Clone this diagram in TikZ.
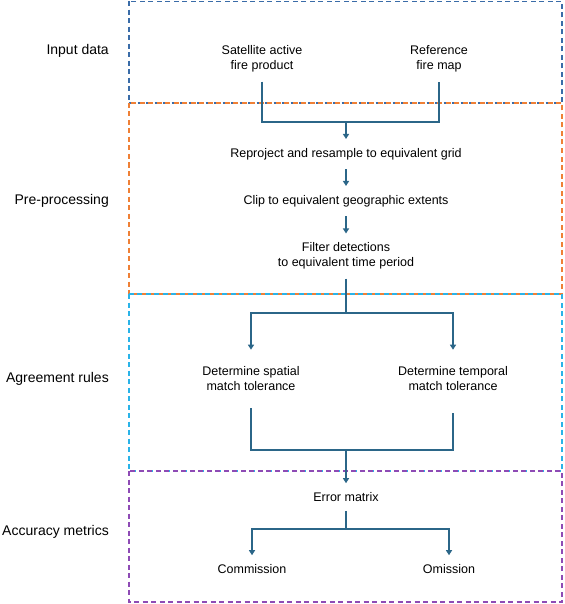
\documentclass[tikz,border=0pt]{standalone}
\usepackage{fontspec}
\setmainfont{Liberation Sans}
\usetikzlibrary{arrows.meta,positioning,calc}

\definecolor{frBlue}{HTML}{3A6CA8}
\definecolor{frOrange}{HTML}{EF8036}
\definecolor{frCyan}{HTML}{2AB3E8}
\definecolor{frPurple}{HTML}{8E4BB5}
\definecolor{flowCol}{HTML}{2B6688}

\tikzset{
  stage/.style={align=center, inner xsep=2pt, inner ysep=9pt, font=\fontsize{12.5}{15}\selectfont},
  side/.style={anchor=east, inner sep=0pt, font=\fontsize{14}{16}\selectfont},
  frame/.style={dash pattern=on 5pt off 3.5pt, line width=1.3pt},
  flow/.style={draw=flowCol, line width=1.4pt},
  arr/.style={flow, -{Triangle[width=6pt,length=5pt]}},
}

\begin{document}
\begin{tikzpicture}[x=1pt,y=-1pt]
    \useasboundingbox (0,0) rectangle (564,604);

    % stage frames
    \draw[frame, draw=frBlue] (129,1.2) rectangle (562,103);
    \draw[frame, draw=frOrange] (129,103) rectangle (562,294);
    \draw[frame, draw=frCyan] (129,294) rectangle (562,471);
    \draw[frame, draw=frPurple] (129,471) rectangle (562,602);

    % side labels
    \node[side] (lblInput) at (109,51) {Input data};
    \node[side] (lblPre) at (109,201) {Pre-processing};
    \node[side] (lblAgree) at (109,379) {Agreement rules};
    \node[side] (lblAcc) at (109,532) {Accuracy metrics};

    % steps
    \node[stage] (sat) at (262,59) {Satellite active\\fire product};
    \node[stage] (ref) at (439,59) {Reference\\fire map};
    \node[stage] (reproj) at (346,154) {Reproject and resample to equivalent grid};
    \node[stage] (clip) at (346,201) {Clip to equivalent geographic extents};
    \node[stage] (filt) at (346,256) {Filter detections\\to equivalent time period};
    \node[stage] (spat) at (251,379) {Determine spatial\\match tolerance};
    \node[stage] (temp) at (453,379) {Determine temporal\\match tolerance};
    \node[stage] (err) at (346,497) {Error matrix};
    \node[stage] (com) at (252,569) {Commission};
    \node[stage] (om) at (449,569) {Omission};

    % junctions
    \coordinate (j1) at (346,122);
    \coordinate (j2) at (346,313);
    \coordinate (j3) at (346,450);
    \coordinate (j4) at (346,529);

    \draw[flow] (sat.south) |- (j1) -| (ref.south);
    \draw[arr] (j1) -- (reproj.north);
    \draw[arr] (reproj.south) -- (clip.north);
    \draw[arr] (clip.south) -- (filt.north);
    \draw[flow] (filt.south) -- (j2);
    \draw[arr] (j2) -| ([yshift=8pt]spat.north);
    \draw[arr] (j2) -| ([yshift=8pt]temp.north);
    \draw[flow] ([yshift=-8pt]spat.south) |- (j3) -| ([yshift=-13pt]temp.south);
    \draw[arr] (j3) -- (err.north);
    \draw[flow] (err.south) -- (j4);
    \draw[arr] (j4) -| (com.north);
    \draw[arr] (j4) -| (om.north);
\end{tikzpicture}
\end{document}
